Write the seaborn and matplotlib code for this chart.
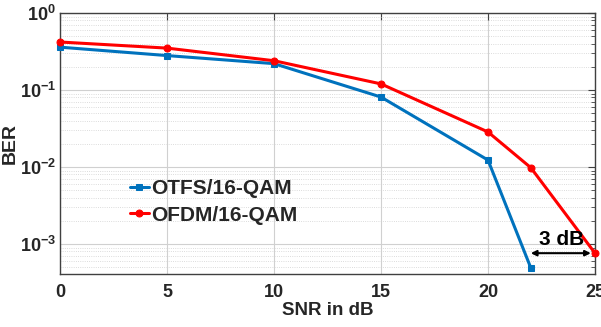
import matplotlib
matplotlib.use("Agg")
import matplotlib.pyplot as plt
import seaborn as sns
import pandas as pd
import numpy as np
from matplotlib.ticker import LogLocator, NullFormatter

snr_otfs = [0, 5, 10, 15, 20, 22]
ber_otfs = [0.36, 0.28, 0.22, 0.081, 0.0123, 4.9e-4]
snr_ofdm = [0, 5, 10, 15, 20, 22, 25]
ber_ofdm = [0.42, 0.35, 0.24, 0.12, 0.0285, 0.0098, 7.6e-4]
labels = ["OTFS/16-QAM", "OFDM/16-QAM"]
colors = ["#0072BD", "#FF0000"]

df = pd.concat([
    pd.DataFrame({"SNR": snr_otfs, "BER": ber_otfs, "Scheme": labels[0]}),
    pd.DataFrame({"SNR": snr_ofdm, "BER": ber_ofdm, "Scheme": labels[1]}),
])

sns.set_style("white")
plt.rcParams['font.family'] = ['Liberation Sans', 'DejaVu Sans']
plt.rcParams['font.weight'] = 'bold'
plt.rcParams['mathtext.fontset'] = 'custom'
plt.rcParams['mathtext.rm'] = 'Liberation Sans:bold'
plt.rcParams['mathtext.it'] = 'Liberation Sans:bold'
plt.rcParams['mathtext.bf'] = 'Liberation Sans:bold'
plt.rcParams['mathtext.default'] = 'regular'

fig = plt.figure(figsize=(6.01, 3.27), dpi=100)
ax = fig.add_axes([60/601, 1 - 274/327, 535/601, 261/327])

markers = {labels[0]: "s", labels[1]: "o"}
for lab, col in zip(labels, colors):
    d = df[df.Scheme == lab]
    sns.lineplot(data=d, x="SNR", y="BER", ax=ax, color=col, lw=2.2,
                 marker=markers[lab], markersize=5, markeredgecolor=col,
                 label=lab, clip_on=False, zorder=3)

ax.set_yscale("log")
ax.set_xlim(0, 25)
ax.set_ylim(10**(-3 - 30/77), 1)
ax.set_xticks([0, 5, 10, 15, 20, 25])
ax.yaxis.set_major_locator(LogLocator(base=10, numticks=10))
ax.yaxis.set_minor_locator(LogLocator(base=10, subs=np.arange(2, 10), numticks=10))
ax.yaxis.set_minor_formatter(NullFormatter())

ax.grid(True, which="major", axis="both", color="#d0d0d0", lw=0.8)
ax.grid(True, which="minor", axis="y", color="#d0d0d0", lw=0.6, ls=":")
for s in ax.spines.values():
    s.set_color("#404040")
    s.set_linewidth(1.0)
ax.tick_params(axis="both", which="major", direction="in", length=5,
               labelsize=13, colors="#404040", labelcolor="#262626")
ax.tick_params(axis="x", which="major", pad=7)
ax.tick_params(axis="y", which="major", pad=3)
ax.tick_params(axis="y", which="minor", direction="in", length=3, colors="#404040")
ax.tick_params(top=True, right=True, which="both")
for lbl in ax.get_xticklabels() + ax.get_yticklabels():
    lbl.set_fontweight("bold")

ax.set_xlabel("SNR in dB", fontsize=13.5, fontweight="bold", color="#262626", labelpad=1)
ax.set_ylabel("BER", fontsize=14, fontweight="bold", color="#262626", labelpad=1)

leg = ax.legend(loc="upper left", bbox_to_anchor=(0.115, 0.395), frameon=False,
                fontsize=15, handlelength=0.9, handletextpad=0.1,
                borderaxespad=0, labelspacing=0.35)
for t in leg.get_texts():
    t.set_fontweight("bold")

ax.annotate("", xy=(25, 7.6e-4), xytext=(22, 7.6e-4),
            arrowprops=dict(arrowstyle="<|-|>", color="black", lw=1.5,
                            mutation_scale=8, shrinkA=0, shrinkB=3))
ax.text(23.45, 8.6e-4, "3 dB", ha="center", va="bottom", fontsize=15,
        fontweight="bold", color="black")

fig.savefig("out.png", dpi=100)
